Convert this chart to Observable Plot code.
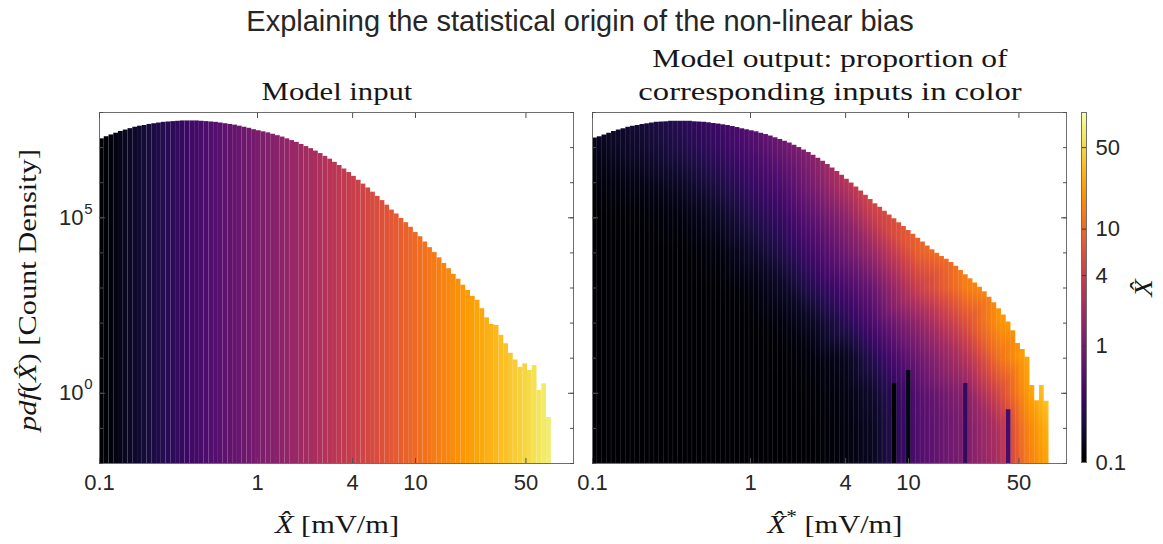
<!DOCTYPE html>
<html><head><meta charset="utf-8">
<script src="https://cdn.jsdelivr.net/npm/d3@7"></script>
<script src="https://cdn.jsdelivr.net/npm/@observablehq/plot@0.6"></script>
<style>
body{margin:0;background:#fff;}
#root{position:relative;width:1163px;height:544px;overflow:hidden;background:#fff;}
</style></head><body><div id="root"></div>
<script>
// ---------------- data ----------------
// histogram bins: log-spaced edges starting at 0.1 mV/m
const binStart = 0.1;
const binLogWidth = 0.0301;      // decades per bin
// left panel: model input, log10 of count density per bin
const inputDensityLog10 = [7.25,7.31,7.36,7.41,7.46,7.50,7.54,7.58,7.61,7.63,
 7.66,7.68,7.70,7.72,7.73,7.74,7.75,7.76,7.76,7.76,
 7.76,7.75,7.74,7.73,7.72,7.70,7.68,7.66,7.64,7.61,
 7.58,7.55,7.51,7.48,7.45,7.42,7.38,7.34,7.30,7.25,
 7.20,7.15,7.09,7.03,6.97,6.90,6.83,6.75,6.67,6.58,
 6.49,6.39,6.29,6.18,6.07,5.96,5.85,5.73,5.61,5.49,
 5.36,5.22,5.11,4.98,4.86,4.73,4.58,4.46,4.31,4.15,
 4.01,3.86,3.70,3.55,3.39,3.25,3.08,2.93,2.76,2.65,
 2.41,2.15,1.96,1.93,1.65,1.41,1.14,0.95,0.74,0.84,
 0.65,0.79,0.08,0.27,-0.69];
// right panel: model output, log10 of count density per bin
const outputDensityLog10 = [7.27,7.31,7.36,7.41,7.46,7.50,7.54,7.58,7.61,7.63,
 7.66,7.68,7.70,7.72,7.73,7.74,7.75,7.75,7.75,7.75,
 7.75,7.74,7.73,7.72,7.71,7.69,7.67,7.65,7.63,7.60,
 7.57,7.54,7.51,7.48,7.45,7.41,7.37,7.33,7.28,7.23,
 7.18,7.13,7.07,7.00,6.93,6.86,6.78,6.70,6.61,6.52,
 6.42,6.32,6.21,6.10,5.99,5.88,5.76,5.64,5.52,5.40,
 5.30,5.19,5.08,4.97,4.86,4.75,4.64,4.53,4.42,4.31,
 4.20,4.09,3.99,3.90,3.82,3.73,3.62,3.50,3.38,3.26,
 3.14,3.02,2.89,2.74,2.58,2.41,2.23,2.03,1.78,1.42,
 1.25,1.03,0.22,-0.21,0.22,-0.23];
// right panel colour: log10 of the corresponding input, sampled at output positions (columns) and density levels (rows)
const fieldX = [0.1, 0.2, 0.36, 0.63, 1, 1.6, 2.5, 4, 6, 11.3, 23.3, 37, 55, 78, 100];
const fieldLevels = [1e8, 1e7, 1e6, 1e5, 1e4, 1e3, 1e2, 1e1, 1e0, 1e-1, 1e-2];
const fieldInputLog10 = [
 [-0.82,-0.86,-0.94,-0.99,-1,-1,-1,-1,-1,-1,-1],
 [-0.70,-0.76,-0.88,-0.97,-1,-1,-1,-1,-1,-1,-1],
 [-0.55,-0.63,-0.79,-0.92,-0.99,-1,-1,-1,-1,-1,-1],
 [-0.40,-0.48,-0.64,-0.80,-0.92,-0.98,-1,-1,-1,-1,-1],
 [-0.25,-0.32,-0.47,-0.63,-0.79,-0.92,-0.98,-1,-1,-1,-1],
 [-0.05,-0.10,-0.30,-0.47,-0.62,-0.80,-0.92,-0.98,-1,-1,-1],
 [0.15,0.15,0.02,-0.20,-0.38,-0.58,-0.80,-0.92,-0.96,-0.98,-0.98],
 [0.50,0.50,0.45,0.15,-0.08,-0.35,-0.58,-0.84,-0.90,-0.92,-0.92],
 [0.82,0.82,0.82,0.60,0.25,-0.10,-0.32,-0.58,-0.76,-0.82,-0.82],
 [0.95,0.95,0.95,0.95,0.92,0.60,0.18,-0.10,-0.27,-0.30,-0.30],
 [1.20,1.20,1.20,1.20,1.20,1.15,0.80,0.45,0.15,0.05,0.05],
 [1.30,1.30,1.30,1.30,1.30,1.30,1.28,1.05,0.70,0.40,0.35],
 [1.40,1.40,1.40,1.40,1.40,1.40,1.40,1.38,1.30,1.15,1.10],
 [1.72,1.72,1.72,1.72,1.72,1.72,1.72,1.72,1.65,1.50,1.42],
 [1.72,1.72,1.72,1.72,1.72,1.72,1.72,1.72,1.65,1.50,1.42]
];
// right panel: single output bins whose lowest part has a distinctly darker input colour
const stripeBins = [63, 66, 78, 87];
const stripeTopLog10 = [0.28, 0.65, 0.28, -0.47];
const stripeInputLog10 = [-1.0, -0.85, -0.5, -0.35];
// axes
const xDomain = [0.1, 100];
const yDomain = [1e-2, 1e8];
const xTicks = [0.1, 1, 4, 10, 50];
const xTickLabels = ["0.1", "1", "4", "10", "50"];
const yDecades = [1e-2,1e-1,1e0,1e1,1e2,1e3,1e4,1e5,1e6,1e7,1e8];
const yMajor = [1e0, 1e5];
const yMajorExponents = ["0", "5"];
const cbDomain = [0.1, 100];
const cbTicks = [0.1, 1, 4, 10, 50];
const cbTickLabels = ["0.1", "1", "4", "10", "50"];
const titleText = "Explaining the statistical origin of the non-linear bias";

// ---------------- tables ----------------
const nEdges = Math.max(inputDensityLog10.length, outputDensityLog10.length) + 1;
const edges = d3.range(nEdges).map(i => binStart * 10 ** (i * binLogWidth));
const toBars = arr => arr.map((v, i) => ({x1: edges[i], x2: edges[i + 1], top: 10 ** v,
  c: Math.log10(edges[i]) + binLogWidth / 2}));
const leftBars = toBars(inputDensityLog10);
const rightBars = toBars(outputDensityLog10);
const lastEdge = edges[rightBars.length];
const maskPts = [...rightBars.map(b => ({x: b.x1, y: b.top})), {x: lastEdge, y: yDomain[0]}, {x: xDomain[1], y: yDomain[0]}];
const fieldSamples = [];
fieldX.forEach((x, i) => fieldLevels.forEach((y, j) => fieldSamples.push({x, y, v: fieldInputLog10[i][j]})));
const stripes = stripeBins.map((b, i) => ({x1: edges[b], x2: edges[b + 1], top: 10 ** stripeTopLog10[i], c: stripeInputLog10[i]}));
const cbStops = d3.range(256).map(i => ({y1: 10 ** (-1 + 3 * i / 256), y2: 10 ** (-1 + 3 * (i + 1) / 256), c: -1 + 3 * (i + 0.5) / 256}));
const xTickData = xTicks.map((v, i) => ({v, label: xTickLabels[i]}));
const yMajorData = yMajor.map((v, i) => ({v, exp: yMajorExponents[i]}));
const cbTickData = cbTicks.map((v, i) => ({v, label: cbTickLabels[i]}));

// ---------------- plots ----------------
const colorScale = {type: "linear", domain: [-1, 2], scheme: "inferno"};
const style = {fontFamily: "'Liberation Sans', Arial, sans-serif", fontSize: "22px", color: "#262626", background: "none", overflow: "visible"};
const frameStroke = "#6e6e6e";
const textFill = "#262626";
function decor(withYLabels) {
  const tk = {stroke: "#505050", label: null, fill: "none"};
  const m = [
    Plot.frame({stroke: frameStroke}),
    Plot.axisX({anchor: "bottom", ticks: xTicks, tickSize: 5, dy: -5, ...tk}),
    Plot.axisX({anchor: "top", ticks: xTicks, tickSize: 5, dy: 5, ...tk}),
    Plot.axisY({anchor: "left", ticks: yDecades, tickSize: 4, dx: 4, ...tk}),
    Plot.axisY({anchor: "right", ticks: yDecades, tickSize: 4, dx: -4, ...tk}),
    Plot.axisY({anchor: "left", ticks: yMajor, tickSize: 6, dx: 6, ...tk}),
    Plot.axisY({anchor: "right", ticks: yMajor, tickSize: 6, dx: -6, ...tk}),
    Plot.text(xTickData, {x: "v", frameAnchor: "bottom", dy: 26, text: "label", fill: textFill})
  ];
  if (withYLabels) {
    m.push(Plot.text(yMajorData, {y: "v", frameAnchor: "left", dx: -16, textAnchor: "end", text: () => "10", fill: textFill}));
    m.push(Plot.text(yMajorData, {y: "v", frameAnchor: "left", dx: -7, dy: -9, textAnchor: "end", text: "exp", fontSize: 15, fill: textFill}));
  }
  return m;
}
const root = document.getElementById("root");
function place(el, left, top) { el.style.position = "absolute"; el.style.left = left + "px"; el.style.top = top + "px"; root.appendChild(el); }

const leftPlot = Plot.plot({
  width: 99 + 474 + 14, height: 544, marginLeft: 99, marginRight: 14, marginTop: 112, marginBottom: 81,
  x: {type: "log", domain: xDomain}, y: {type: "log", domain: yDomain}, color: colorScale, style,
  marks: [
    Plot.rect(leftBars, {x1: "x1", x2: "x2", y1: yDomain[0], y2: "top", fill: "c"}),
    ...decor(true)
  ]
});
place(leftPlot, 0, 0);

const rightPlot = Plot.plot({
  width: 30 + 474 + 14, height: 544, marginLeft: 30, marginRight: 14, marginTop: 112, marginBottom: 81,
  x: {type: "log", domain: xDomain}, y: {type: "log", domain: yDomain}, color: colorScale, style,
  marks: [
    Plot.raster(fieldSamples, {x: "x", y: "y", fill: "v", interpolate: "barycentric"}),
    Plot.areaY(maskPts, {x: "x", y1: "y", y2: yDomain[1], curve: "step-after", fill: "white"}),
    Plot.rect(stripes, {x1: "x1", x2: "x2", y1: yDomain[0], y2: "top", fill: "c"}),
    Plot.rect(rightBars, {x1: "x1", x2: "x2", y1: yDomain[0], y2: "top", fill: "none", stroke: "white", strokeOpacity: 0.1, strokeWidth: 0.6}),
    ...decor(false)
  ]
});
place(rightPlot, 592 - 30, 0);

const cbPlot = Plot.plot({
  width: 11 + 5 + 75, height: 544, marginLeft: 11, marginRight: 75, marginTop: 112, marginBottom: 82,
  y: {type: "log", domain: cbDomain, axis: null}, color: colorScale, style,
  marks: [
    Plot.rect(cbStops, {y1: "y1", y2: "y2", fill: "c", shapeRendering: "crispEdges"}),
    Plot.ruleY(cbTicks.slice(1), {stroke: "#3a3a3a", strokeWidth: 1}),
    Plot.frame({stroke: frameStroke}),
    Plot.text(cbTickData, {y: "v", frameAnchor: "right", dx: 9, textAnchor: "start", text: "label", fill: textFill})
  ]
});
place(cbPlot, 1081 - 11, 0);

// ---------------- texts ----------------
const NS = "http://www.w3.org/2000/svg";
const ov = document.createElementNS(NS, "svg");
ov.setAttribute("width", 1163); ov.setAttribute("height", 544);
ov.style.pointerEvents = "none";
place(ov, 0, 0);
const serif = "'Liberation Serif', 'Times New Roman', serif";
function label({x, y, rotate = 0, sx = 1, size, family = serif, parts, fill = "#161616"}) {
  const g = document.createElementNS(NS, "g");
  g.setAttribute("transform", `translate(${x},${y}) rotate(${rotate}) scale(${sx},1)`);
  const t = document.createElementNS(NS, "text");
  t.setAttribute("text-anchor", "middle");
  t.setAttribute("font-family", family);
  t.setAttribute("font-size", size);
  t.setAttribute("fill", fill);
  g.appendChild(t); ov.appendChild(g);
  let raised = false;
  for (const p of parts) {
    const s = document.createElementNS(NS, "tspan");
    s.textContent = p.t + (p.hat ? "\u0302" : "");
    if (p.italic) s.setAttribute("font-style", "italic");
    if (p.sup) { s.setAttribute("font-size", size * 0.7); s.setAttribute("dy", -size * 0.38); raised = true; }
    else if (raised) { s.setAttribute("dy", size * 0.38); raised = false; }
    t.appendChild(s);
  }
}
label({x: 580, y: 31, size: 29, family: "'Liberation Sans', Arial, sans-serif", fill: "#262626", parts: [{t: titleText}]});
label({x: 337, y: 100, size: 26, sx: 1.18, parts: [{t: "Model input"}]});
label({x: 830, y: 67, size: 26, sx: 1.215, parts: [{t: "Model output: proportion of"}]});
label({x: 830, y: 100, size: 26, sx: 1.255, parts: [{t: "corresponding inputs in color"}]});
label({x: 36, y: 290, rotate: -90, size: 26, sx: 1.17, parts: [{t: "pdf", italic: true}, {t: "("}, {t: "X", italic: true, hat: true}, {t: ") [Count Density]"}]});
label({x: 337, y: 533, size: 26, sx: 1.17, parts: [{t: "X", italic: true, hat: true}, {t: " [mV/m]"}]});
label({x: 835, y: 533, size: 26, sx: 1.17, parts: [{t: "X", italic: true, hat: true}, {t: "*", sup: true}, {t: " [mV/m]"}]});
label({x: 1152, y: 288, rotate: -90, size: 26, sx: 1.1, parts: [{t: "X", italic: true, hat: true}]});
</script></body></html>
